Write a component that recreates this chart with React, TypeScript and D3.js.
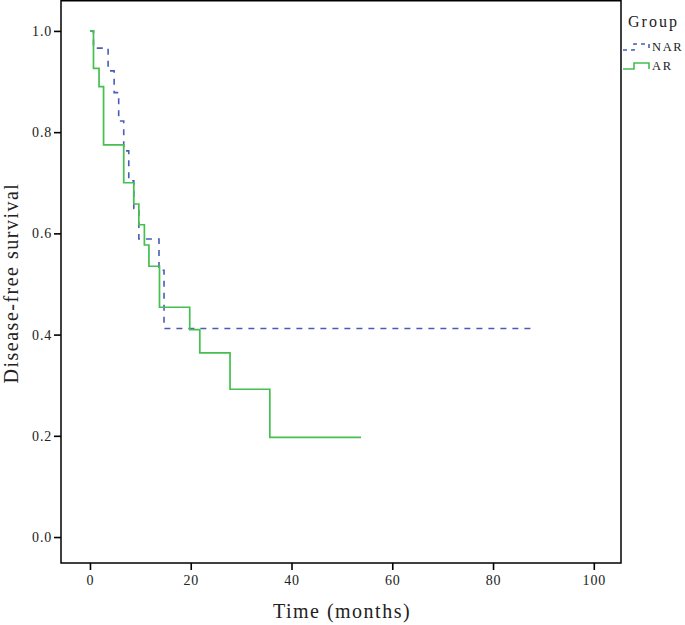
import { useEffect, useRef } from 'react';
import { axisBottom, axisLeft, curveStepAfter, line, scaleLinear, select } from 'd3';

// Kaplan-Meier steps (time in months, survival)
const narTime = [0, 0.7, 3.6, 4.8, 5.7, 6.7, 7.7, 8.7, 9.7, 13.7, 14.7, 88];
const narSurv = [1.0, 0.966, 0.921, 0.878, 0.822, 0.763, 0.704, 0.649, 0.589, 0.527, 0.412, 0.412];

const arTime = [0, 0.7, 1.8, 2.7, 6.7, 8.7, 9.7, 10.8, 11.7, 13.8, 19.8, 21.8, 27.8, 35.7, 53.8];
const arSurv = [1.0, 0.926, 0.89, 0.775, 0.7, 0.658, 0.617, 0.577, 0.535, 0.454, 0.41, 0.364, 0.292, 0.197, 0.197];

const xTicks = [0, 20, 40, 60, 80, 100];
const yTicks = [0, 0.2, 0.4, 0.6, 0.8, 1.0];
const groups = ['NAR', 'AR'];

const W = 685;
const H = 625;
const FONT = '"Liberation Serif", "DejaVu Serif", serif';

export default function App() {
  const svgRef = useRef<SVGSVGElement>(null);

  useEffect(() => {
    const svg = select(svgRef.current);
    svg.selectAll('*').remove();

    const x = scaleLinear().domain([-5.75, 105.4]).range([61, 621]);
    const y = scaleLinear().domain([-0.0513, 1.0611]).range([563, 0]);

    // frame
    svg.append('rect')
      .attr('x', 61).attr('y', 0.75)
      .attr('width', 560).attr('height', 562.25)
      .attr('fill', 'none').attr('stroke', '#000').attr('stroke-width', 1.5);

    const step = line<[number, number]>()
      .x(d => x(d[0]))
      .y(d => y(d[1]))
      .curve(curveStepAfter);

    svg.append('path')
      .attr('d', step(narTime.map((t, i) => [t, narSurv[i]] as [number, number])))
      .attr('fill', 'none')
      .attr('stroke', '#4a5cb8')
      .attr('stroke-width', 1.6)
      .attr('stroke-dasharray', '6,6');

    svg.append('path')
      .attr('d', step(arTime.map((t, i) => [t, arSurv[i]] as [number, number])))
      .attr('fill', 'none')
      .attr('stroke', '#44bf50')
      .attr('stroke-width', 1.7);

    const gx = svg.append('g')
      .attr('transform', 'translate(0,563)')
      .call(axisBottom(x).tickValues(xTicks).tickSize(7).tickPadding(5).tickFormat(d => String(d)));
    const gy = svg.append('g')
      .attr('transform', 'translate(61,0)')
      .call(axisLeft(y).tickValues(yTicks).tickSize(7).tickPadding(2).tickFormat(d => (+d).toFixed(1)));

    [gx, gy].forEach(g => {
      g.select('.domain').remove();
      g.selectAll('line').attr('stroke', '#000').attr('stroke-width', 1.6);
      g.selectAll('text')
        .attr('fill', '#222')
        .style('font-family', FONT)
        .style('font-size', '14px')
        .style('letter-spacing', '0.8px');
    });

    svg.append('text')
      .attr('x', 342).attr('y', 618)
      .attr('text-anchor', 'middle')
      .style('font-family', FONT).style('font-size', '20px').style('letter-spacing', '1.5px')
      .attr('fill', '#222')
      .text('Time (months)');

    svg.append('text')
      .attr('transform', 'translate(18,283) rotate(-90)')
      .attr('text-anchor', 'middle')
      .style('font-family', FONT).style('font-size', '20px').style('letter-spacing', '1.5px')
      .attr('fill', '#222')
      .text('Disease-free survival');

    // legend
    svg.append('text')
      .attr('x', 628).attr('y', 27)
      .style('font-family', FONT).style('font-size', '16px').style('letter-spacing', '2px')
      .attr('fill', '#222')
      .text('Group');

    const legendY = [50, 69];
    const colors = ['#4a5cb8', '#44bf50'];
    groups.forEach((g, i) => {
      const by = legendY[i];
      svg.append('path')
        .attr('d', `M623,${by} H634 V${by - 6} H649 V${by}`)
        .attr('fill', 'none')
        .attr('stroke', colors[i])
        .attr('stroke-width', 1.6)
        .attr('stroke-dasharray', i === 0 ? '4,4' : null);
      svg.append('text')
        .attr('x', 652).attr('y', by + 1)
        .style('font-family', FONT).style('font-size', '12.5px').style('letter-spacing', '1.6px')
        .attr('fill', '#222')
        .text(g);
    });
  }, []);

  return (
    <svg
      ref={svgRef}
      width={W}
      height={H}
      style={{ position: 'absolute', left: 0, top: 0, background: '#fff' }}
    />
  );
}
